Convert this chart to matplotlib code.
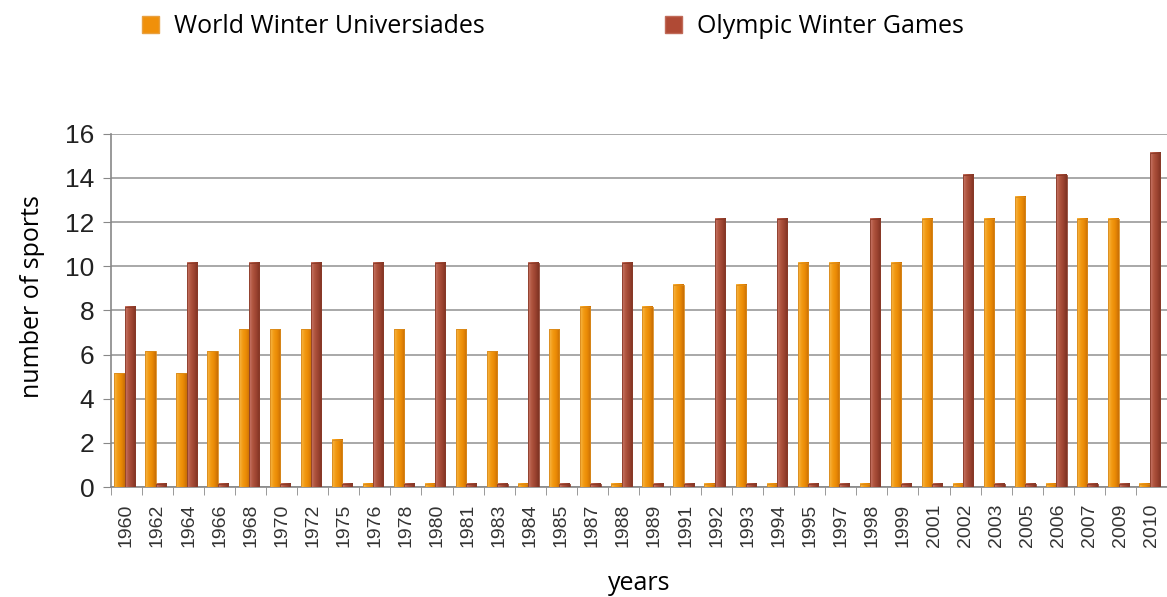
import numpy as np
import matplotlib
matplotlib.use("Agg")
import matplotlib.pyplot as plt
from matplotlib.patches import Patch
from matplotlib.colors import LinearSegmentedColormap

years = ["1960", "1962", "1964", "1966", "1968", "1970", "1972", "1975", "1976",
         "1978", "1980", "1981", "1983", "1984", "1985", "1987", "1988", "1989",
         "1991", "1992", "1993", "1994", "1995", "1997", "1998", "1999", "2001",
         "2002", "2003", "2005", "2006", "2007", "2009", "2010"]
universiades = [5, 6, 5, 6, 7, 7, 7, 2, 0, 7, 0, 7, 6, 0, 7, 8, 0, 8, 9, 0, 9, 0,
                10, 10, 0, 10, 12, 0, 12, 13, 0, 12, 12, 0]
olympics = [8, 0, 10, 0, 10, 0, 10, 0, 10, 0, 10, 0, 0, 10, 0, 0, 10, 0, 0, 12, 0,
            12, 0, 0, 12, 0, 0, 14, 0, 0, 14, 0, 0, 15]

series_labels = ["World Winter Universiades", "Olympic Winter Games"]

# side-light gradients to fake the cylinder look
orange_cm = LinearSegmentedColormap.from_list(
    "org", ["#f6b84a", "#f39a12", "#ea8a05", "#c86e05"])
red_cm = LinearSegmentedColormap.from_list(
    "red", ["#c9786a", "#b0553f", "#9c4330", "#7e3323"])
cap_h = 0.15  # visible top face of the 3d bars

fig = plt.figure(figsize=(11.67, 5.97), dpi=100)
ax = fig.add_axes([0.095, 0.184, 0.905, 0.592])

x = np.arange(len(years))
w = 0.33
grad = np.linspace(0, 1, 32).reshape(1, -1)


def draw_bars(xpos, vals, cmap, edge):
    bars = ax.bar(xpos, vals, w, color="none", edgecolor="none", zorder=2)
    for b, v in zip(bars, vals):
        x0 = b.get_x()
        top = v + cap_h
        ax.imshow(grad, cmap=cmap, aspect="auto", extent=(x0, x0 + w, 0, top),
                  zorder=3, interpolation="bicubic")
        ax.add_patch(plt.Rectangle((x0, 0), w, top, fill=False, lw=0.6,
                                   edgecolor=edge, zorder=4))


shift = -0.06
draw_bars(x - w / 2 + shift, universiades, orange_cm, "#d98a1c")
draw_bars(x + w / 2 + shift, olympics, red_cm, "#8a3a28")

ax.set_xlim(-0.5, len(years) - 0.5)
ax.set_ylim(0, 16)
ax.set_yticks(np.arange(0, 17, 2))
ax.set_yticklabels([str(v) for v in range(0, 17, 2)], fontsize=19,
                   family="Liberation Sans", color="#222222")
ax.set_xticks(x)
ax.set_xticklabels(years, rotation=90, fontsize=14, family="Liberation Sans",
                   color="#333333")
ax.set_xticks(np.arange(-0.5, len(years), 1), minor=True)
ax.tick_params(axis="x", which="major", length=0, pad=12)
ax.tick_params(axis="x", which="minor", length=6, color="#888888")
ax.tick_params(axis="y", length=6, color="#888888", pad=6)

ax.grid(axis="y", color="#999999", lw=1.2, zorder=0)
ax.set_axisbelow(True)
for s in ["top", "right"]:
    ax.spines[s].set_visible(False)
for s in ["left", "bottom"]:
    ax.spines[s].set_color("#888888")
    ax.spines[s].set_linewidth(1.2)

ax.set_ylabel("number of sports", fontsize=18, family="Open Sans")
ax.yaxis.set_label_coords(-0.062, 0.54)
ax.set_xlabel("years", fontsize=18, family="Open Sans", labelpad=17)

handles = [Patch(facecolor="#f0900a", edgecolor="#e8a040"),
           Patch(facecolor="#b04a35", edgecolor="#c06a58")]
fig.legend(handles, series_labels, ncol=2, loc="center left",
           bbox_to_anchor=(0.102, 0.955), frameon=False,
           prop={"family": "Open Sans", "size": 18}, handlelength=0.7,
           handleheight=0.7, columnspacing=7.2, handletextpad=0.6)

fig.savefig("out.png", dpi=100)
